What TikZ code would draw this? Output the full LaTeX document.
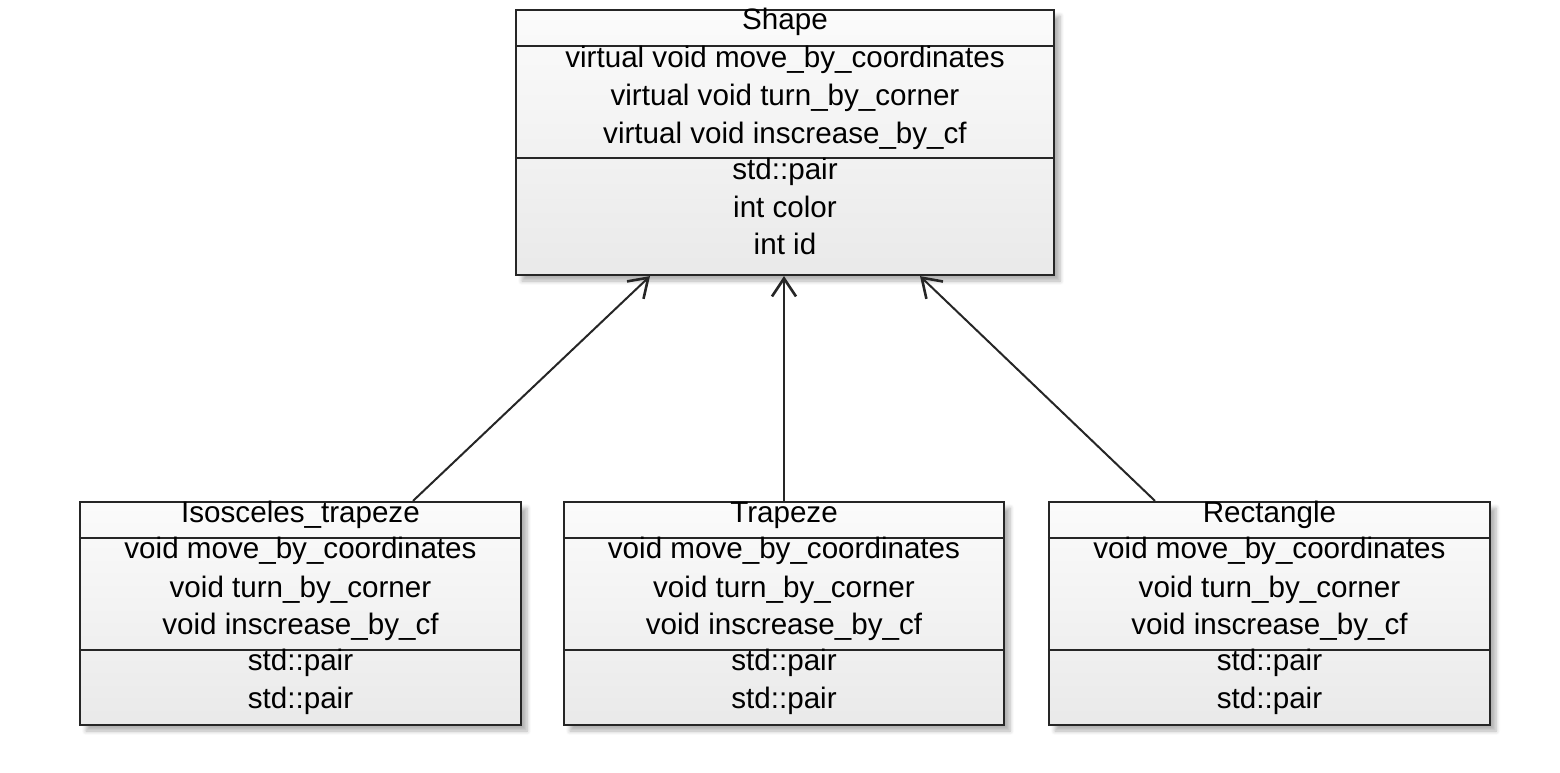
\documentclass[tikz,border=0pt]{standalone}
\usepackage{fontspec}
\setmainfont{Liberation Sans}
\usetikzlibrary{arrows.meta,calc,shadows.blur}
\begin{document}
\begin{tikzpicture}[x=0.5pt,y=-0.5pt,
  classbox/.style={draw=black!85, line width=1.1pt, rectangle, inner sep=0pt,
    top color=gray!3, bottom color=gray!17,
    blur shadow={shadow xshift=3pt, shadow yshift=-3pt, shadow blur steps=6, shadow opacity=30}},
  txt/.style={inner sep=0pt, text height=10pt, text depth=3pt, font=\fontsize{14.8}{19}\selectfont, text=black},
  sep/.style={draw=black!85, line width=1.1pt},
  inh/.style={draw=black!85, line width=1pt, -{Straight Barb[length=9pt,width=12pt,line width=1.3pt]}}
]
\useasboundingbox (0,0) rectangle (1560,772);

% Shape
\node[classbox, minimum width=269pt, minimum height=132.5pt] (shape) at (785,142.5) {};
\draw[sep] (shape.west |- 0,46) -- (shape.east |- 0,46);
\draw[sep] (shape.west |- 0,158) -- (shape.east |- 0,158);
\node[txt] (s0) at (785,22) {Shape};
\node[txt] (s1) at (785,60) {virtual void move\_by\_coordinates};
\node[txt] (s2) at (785,98) {virtual void turn\_by\_corner};
\node[txt] (s3) at (785,136) {virtual void inscrease\_by\_cf};
\node[txt] (s4) at (785,172) {std::pair};
\node[txt] (s5) at (785,210) {int color};
\node[txt] (s6) at (785,247) {int id};

% Isosceles_trapeze
\node[classbox, minimum width=220.5pt, minimum height=111.5pt] (iso) at (300.5,613.5) {};
\draw[sep] (iso.west |- 0,538) -- (iso.east |- 0,538);
\draw[sep] (iso.west |- 0,650) -- (iso.east |- 0,650);
\node[txt] (i0) at (300.5,515) {Isosceles\_trapeze};
\node[txt] (i1) at (300.5,551) {void move\_by\_coordinates};
\node[txt] (i2) at (300.5,590) {void turn\_by\_corner};
\node[txt] (i3) at (300.5,627) {void inscrease\_by\_cf};
\node[txt] (i4) at (300.5,663) {std::pair};
\node[txt] (i5) at (300.5,701) {std::pair};

% Trapeze
\node[classbox, minimum width=220pt, minimum height=111.5pt] (trap) at (784,613.5) {};
\draw[sep] (trap.west |- 0,538) -- (trap.east |- 0,538);
\draw[sep] (trap.west |- 0,650) -- (trap.east |- 0,650);
\node[txt] (t0) at (784,515) {Trapeze};
\node[txt] (t1) at (784,551) {void move\_by\_coordinates};
\node[txt] (t2) at (784,590) {void turn\_by\_corner};
\node[txt] (t3) at (784,627) {void inscrease\_by\_cf};
\node[txt] (t4) at (784,663) {std::pair};
\node[txt] (t5) at (784,701) {std::pair};

% Rectangle
\node[classbox, minimum width=220.5pt, minimum height=111.5pt] (rect) at (1269.5,613.5) {};
\draw[sep] (rect.west |- 0,538) -- (rect.east |- 0,538);
\draw[sep] (rect.west |- 0,650) -- (rect.east |- 0,650);
\node[txt] (r0) at (1269.5,515) {Rectangle};
\node[txt] (r1) at (1269.5,551) {void move\_by\_coordinates};
\node[txt] (r2) at (1269.5,590) {void turn\_by\_corner};
\node[txt] (r3) at (1269.5,627) {void inscrease\_by\_cf};
\node[txt] (r4) at (1269.5,663) {std::pair};
\node[txt] (r5) at (1269.5,701) {std::pair};

% inheritance arrows
\draw[inh] ($(iso.north)+(112.5,0)$) -- ($(shape.south)+(-135,0)$);
\draw[inh] (trap.north) -- (trap.north |- shape.south);
\draw[inh] ($(rect.north)+(-114.5,0)$) -- ($(shape.south)+(135,0)$);
\end{tikzpicture}
\end{document}
